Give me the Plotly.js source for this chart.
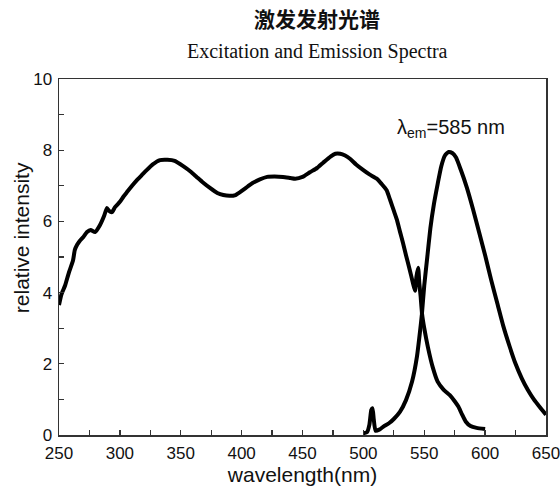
<!DOCTYPE html>
<html>
<head>
<meta charset="utf-8">
<script src="https://cdn.plot.ly/plotly-3.0.1.min.js"></script>
<style>html,body{margin:0;padding:0;background:#fff;}#chart{width:560px;height:493px;}</style>
</head>
<body>
<div id="chart"></div>
<script>
// Excitation spectrum (λem = 585 nm)
const excWavelength = [250,252,255,258,261.5,263,265,267,270,273,276,279.6,283.7,287,289.4,291,293.5,296,300,303,306,310,314,318,322,327,333,339,345,352,358,363,368,374,380,385,390,395,401,405,409,415,421,427,434,440,444,450,456,462,467,473,477,481,485,489,494,500,505,511,515,519,522,525,527.5,530,532.5,535,538,540.5,542.4,543.6,545,546,547,548.2,550,553,557,561,566,571,575,578,581,584,588,593,600];
const excIntensity = [3.65,3.95,4.2,4.55,4.9,5.2,5.35,5.45,5.56,5.7,5.76,5.7,5.9,6.15,6.38,6.3,6.26,6.4,6.55,6.7,6.83,7.0,7.16,7.3,7.44,7.6,7.72,7.73,7.7,7.55,7.4,7.25,7.1,6.94,6.8,6.74,6.72,6.74,6.88,6.98,7.08,7.18,7.25,7.26,7.25,7.22,7.2,7.25,7.38,7.5,7.65,7.82,7.9,7.9,7.85,7.76,7.6,7.44,7.32,7.2,7.05,6.88,6.6,6.3,6.05,5.72,5.4,5.05,4.65,4.3,4.05,4.45,4.7,4.25,3.9,3.4,3.0,2.47,1.9,1.5,1.27,1.12,0.95,0.8,0.58,0.38,0.25,0.2,0.17];

// Emission spectrum
const emWavelength = [500,503,505,506.5,507.5,508.5,510,513,517,521,525,530,535,540,544,546.5,548,550,552.5,555,558,561,564,567,570,573,576,580,585,590,595,600,605,610,615,620,625,630,635,640,645,650];
const emIntensity = [0.05,0.08,0.3,0.7,0.75,0.45,0.12,0.15,0.25,0.33,0.45,0.65,0.98,1.5,2.2,2.9,3.37,4.2,5.0,5.8,6.5,7.05,7.55,7.85,7.95,7.92,7.8,7.45,6.95,6.35,5.7,5.05,4.35,3.7,3.05,2.5,2.0,1.6,1.27,1.0,0.78,0.57];

const xTickVals = [250,300,350,400,450,500,550,600,650];
const yTickVals = [0,2,4,6,8,10];

const titleCn = '激发发射光谱';
const titleEn = 'Excitation and Emission Spectra';
const xTitle = 'wavelength(nm)';
const yTitle = 'relative intensity';
const lambdaLabel = 'λ<sub>em</sub>=585 nm';

const lineStyle = {color:'#000', width:4, shape:'spline', smoothing:0.5};

const traces = [
  {x: excWavelength, y: excIntensity, type:'scatter', mode:'lines', line: lineStyle, hoverinfo:'skip'},
  {x: emWavelength, y: emIntensity, type:'scatter', mode:'lines', line: lineStyle, hoverinfo:'skip'}
];

const axisCommon = {
  showgrid:false, zeroline:false, showline:true, mirror:true,
  linecolor:'#333', linewidth:1.5,
  ticks:'inside', ticklen:5, tickwidth:1.3, tickcolor:'#333',
  ticklabeloverflow:'allow',
  tickfont:{family:'Liberation Sans, Arial, sans-serif', size:17, color:'#111'}
};

const layout = {
  width:560, height:493,
  paper_bgcolor:'#fff', plot_bgcolor:'#fff',
  margin:{l:59, r:14, t:79, b:58},
  showlegend:false,
  xaxis: Object.assign({}, axisCommon, {
    range:[250,650], tickvals:xTickVals, ticklabelstandoff:2,
    minor:{dtick:25, ticks:'inside', ticklen:5, tickwidth:1.3, tickcolor:'#333'},
    title:{text:xTitle, font:{family:'Liberation Sans, Arial, sans-serif', size:21, color:'#111'}, standoff:4}
  }),
  yaxis: Object.assign({}, axisCommon, {
    range:[0,10], tickvals:yTickVals, ticklabelstandoff:2,
    minor:{dtick:1, ticks:'inside', ticklen:5, tickwidth:1.3, tickcolor:'#333'}
  }),
  annotations:[
    {text:titleCn, xref:'paper', yref:'paper', x:0.53, y:1.0, yshift:61, showarrow:false,
     xanchor:'center', yanchor:'middle', font:{family:'Noto Sans CJK SC', size:21, color:'#111', weight:700}},
    {text:titleEn, xref:'paper', yref:'paper', x:0.53, y:1.0, yshift:28, showarrow:false,
     xanchor:'center', yanchor:'middle', font:{family:'Liberation Serif, Times New Roman, serif', size:20, color:'#111'}},
    {text:yTitle, xref:'paper', yref:'paper', x:-0.078, y:0.553, textangle:-90, showarrow:false,
     xanchor:'center', yanchor:'middle', font:{family:'Liberation Sans, Arial, sans-serif', size:21, color:'#111'}},
    {text:lambdaLabel, xref:'x', yref:'y', x:526, y:8.6, showarrow:false,
     xanchor:'left', yanchor:'middle', font:{family:'Liberation Sans, Arial, sans-serif', size:20, color:'#111'}}
  ]
};

Plotly.newPlot('chart', traces, layout, {staticPlot:true, displayModeBar:false});
</script>
</body>
</html>
